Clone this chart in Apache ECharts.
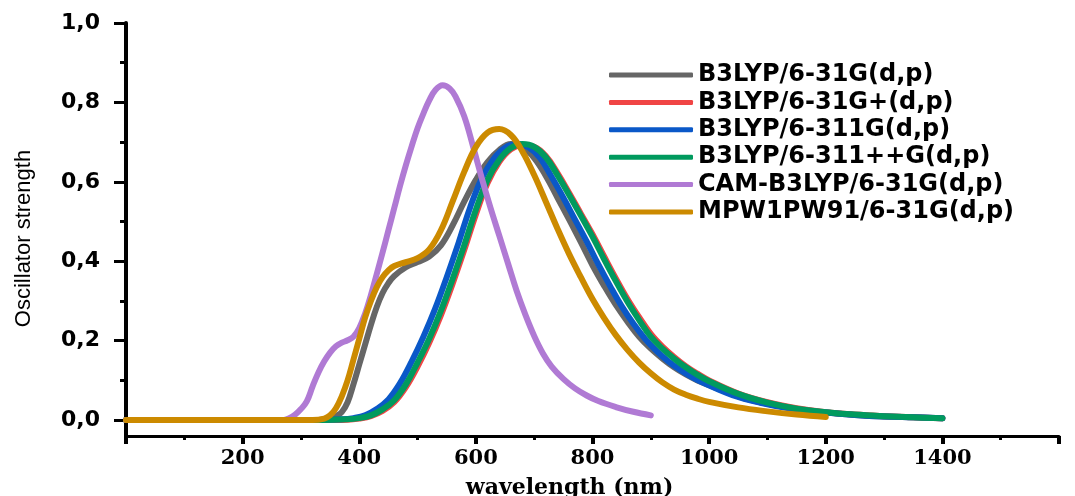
<!DOCTYPE html>
<html>
<head>
<meta charset="utf-8">
<script src="https://cdn.jsdelivr.net/npm/echarts@6/dist/echarts.min.js"></script>
<style>
  html, body { margin: 0; padding: 0; background: #fff; }
  #chartmain { width: 1075px; height: 496px; }
</style>
</head>
<body>
<div id="chartmain"></div>
<script>
// series names (legend order)
var names = ['B3LYP/6-31G(d,p)', 'B3LYP/6-31G+(d,p)', 'B3LYP/6-311G(d,p)',
             'B3LYP/6-311++G(d,p)', 'CAM-B3LYP/6-31G(d,p)', 'MPW1PW91/6-31G(d,p)'];
var colors = ['#666666', '#f04545', '#0a58c8', '#009a5e', '#b07ad4', '#cc8a00'];

// wavelength (nm), oscillator strength
var b3lyp631 = [[0,0],[330,0],[350,0.004],[360,0.01],[370,0.02],[380,0.045],[390,0.09],[400,0.14],
  [410,0.19],[420,0.24],[430,0.285],[440,0.32],[450,0.345],[460,0.363],[480,0.385],[500,0.398],
  [520,0.412],[540,0.44],[560,0.49],[580,0.55],[600,0.605],[620,0.65],[640,0.68],[660,0.695],
  [680,0.687],[700,0.66],[720,0.615],[740,0.56],[760,0.505],[780,0.448],[800,0.39],[820,0.338],
  [840,0.29],[860,0.248],[880,0.21],[900,0.18],[920,0.155],[940,0.133],[960,0.115],[980,0.1],
  [1000,0.088],[1050,0.06],[1100,0.041],[1150,0.028],[1200,0.019],[1250,0.013],[1300,0.009],
  [1350,0.007],[1400,0.005]];
var b3lyp631p = [[0,0],[330,0],[380,0.001],[400,0.004],[420,0.01],[440,0.023],[460,0.045],[480,0.083],
  [500,0.135],[520,0.195],[540,0.264],[560,0.343],[580,0.428],[600,0.518],[620,0.597],[640,0.65],
  [660,0.682],[680,0.692],[700,0.688],[720,0.665],[740,0.622],[760,0.572],[780,0.52],[800,0.468],
  [820,0.412],[840,0.357],[860,0.305],[880,0.259],[900,0.217],[920,0.185],[940,0.159],[960,0.136],
  [980,0.117],[1000,0.1],[1050,0.067],[1100,0.045],[1150,0.03],[1200,0.02],[1250,0.014],
  [1300,0.01],[1350,0.007],[1400,0.005]];
var b3lyp6311 = [[0,0],[320,0],[370,0.002],[390,0.005],[410,0.012],[430,0.028],[450,0.052],[470,0.093],
  [490,0.148],[510,0.21],[530,0.28],[550,0.36],[570,0.445],[590,0.535],[610,0.608],[630,0.657],
  [650,0.686],[670,0.695],[690,0.687],[710,0.66],[730,0.612],[750,0.56],[770,0.505],[790,0.45],
  [810,0.392],[830,0.338],[850,0.287],[870,0.243],[890,0.205],[910,0.174],[930,0.148],[950,0.127],
  [970,0.109],[990,0.094],[1040,0.063],[1090,0.043],[1140,0.029],[1200,0.019],[1250,0.013],
  [1300,0.009],[1350,0.007],[1400,0.005]];
var b3lyp6311pp = [[0,0],[330,0],[380,0.002],[400,0.005],[420,0.012],[440,0.027],[460,0.05],[480,0.09],
  [500,0.145],[520,0.205],[540,0.275],[560,0.355],[580,0.44],[600,0.53],[620,0.605],[640,0.655],
  [660,0.685],[680,0.695],[700,0.688],[720,0.662],[740,0.617],[760,0.567],[780,0.515],[800,0.462],
  [820,0.405],[840,0.35],[860,0.298],[880,0.252],[900,0.21],[920,0.18],[940,0.155],[960,0.133],
  [980,0.114],[1000,0.098],[1050,0.066],[1100,0.044],[1150,0.029],[1200,0.02],[1250,0.014],
  [1300,0.01],[1350,0.007],[1400,0.005]];
var camb3lyp = [[0,0],[270,0],[280,0.005],[290,0.014],[300,0.028],[310,0.047],[320,0.085],[330,0.12],
  [340,0.148],[350,0.17],[360,0.186],[370,0.195],[380,0.201],[390,0.21],[400,0.232],[410,0.268],
  [420,0.315],[430,0.368],[440,0.422],[450,0.478],[460,0.534],[470,0.59],[480,0.642],[490,0.69],
  [500,0.735],[510,0.772],[520,0.805],[530,0.83],[543,0.843],[555,0.835],[565,0.815],[580,0.765],
  [595,0.69],[610,0.61],[625,0.535],[640,0.465],[655,0.395],[670,0.325],[685,0.265],[700,0.212],
  [715,0.168],[730,0.135],[750,0.104],[770,0.08],[790,0.062],[810,0.048],[840,0.033],[870,0.021],
  [900,0.012]];
var mpw1pw91 = [[0,0],[320,0],[340,0.004],[350,0.012],[360,0.03],[370,0.06],[380,0.1],[390,0.152],
  [400,0.205],[410,0.258],[420,0.3],[430,0.335],[440,0.36],[450,0.377],[460,0.388],[480,0.398],
  [500,0.408],[520,0.43],[540,0.478],[560,0.55],[580,0.625],[600,0.688],[620,0.724],[640,0.733],
  [660,0.718],[680,0.676],[700,0.617],[720,0.55],[740,0.482],[760,0.418],[780,0.36],[800,0.305],
  [820,0.257],[840,0.214],[860,0.177],[880,0.145],[900,0.118],[920,0.095],[940,0.077],[960,0.064],
  [980,0.054],[1000,0.046],[1050,0.032],[1100,0.022],[1150,0.014],[1200,0.008]];

var allData = [b3lyp631, b3lyp631p, b3lyp6311, b3lyp6311pp, camb3lyp, mpw1pw91];

// y axis ticks
var yMajor = [0, 0.2, 0.4, 0.6, 0.8, 1.0];
var yMinor = [0.1, 0.3, 0.5, 0.7, 0.9];

var series = [];
for (var i = 0; i < names.length; i++) {
  series.push({
    name: names[i],
    type: 'line',
    data: allData[i],
    smooth: 0.4,
    symbol: 'none',
    showSymbol: false,
    yAxisIndex: 0,
    color: colors[i],
    lineStyle: { width: 6, color: colors[i], cap: 'round', join: 'round' },
    z: 2 + i
  });
}

var legendData = [];
for (var j = 0; j < names.length; j++) {
  legendData.push({ name: names[j], icon: 'roundRect', itemStyle: { color: colors[j] } });
}

var option = {
  animation: false,
  backgroundColor: '#fff',
  grid: { left: 126, right: 16, top: 23, bottom: 60, outerBoundsMode: 'none', containLabel: false },
  legend: {
    orient: 'vertical',
    left: 604,
    top: 58,
    itemWidth: 84,
    itemHeight: 5,
    itemGap: 3.4,
    data: legendData,
    textStyle: {
      fontFamily: 'DejaVu Sans',
      fontWeight: 'bold',
      fontSize: 24,
      lineHeight: 22,
      color: '#000'
    }
  },
  xAxis: {
    type: 'value',
    min: 0,
    max: 1600,
    interval: 200,
    name: 'wavelength (nm)',
    nameLocation: 'middle',
    nameGap: 41,
    nameTextStyle: {
      fontFamily: 'DejaVu Serif',
      fontWeight: 'bold',
      fontSize: 22,
      color: '#000',
      padding: [0, 46, 0, 0]
    },
    splitLine: { show: false },
    axisLine: { show: true, onZero: false, lineStyle: { color: '#000', width: 3 } },
    axisTick: { show: true, inside: false, length: 8, lineStyle: { color: '#000', width: 4 } },
    minorTick: { show: true, splitNumber: 2, length: 4, lineStyle: { color: '#000', width: 3 } },
    axisLabel: {
      margin: 12,
      fontFamily: 'DejaVu Serif',
      fontWeight: 'bold',
      fontSize: 21,
      color: '#000',
      formatter: function (v) { return (v === 0 || v === 1600) ? '' : String(v); }
    }
  },
  yAxis: [{
    type: 'value',
    min: -0.04,
    max: 1.0,
    name: 'Oscillator strength',
    nameLocation: 'middle',
    nameGap: 91,
    nameTextStyle: {
      fontFamily: 'Liberation Sans',
      fontSize: 22,
      color: '#000',
      padding: [0, 18, 0, 0]
    },
    splitLine: { show: false },
    axisLine: { show: true, onZero: false, lineStyle: { color: '#000', width: 4 } },
    axisTick: { show: true, inside: false, length: 12, customValues: yMajor,
      lineStyle: { color: '#000', width: 3 } },
    axisLabel: {
      margin: 26,
      customValues: yMajor,
      fontFamily: 'DejaVu Sans',
      fontWeight: 'bold',
      fontSize: 22,
      color: '#000',
      formatter: function (v) { return v.toFixed(1).replace('.', ','); }
    }
  }, {
    // minor ticks only
    type: 'value',
    position: 'left',
    min: -0.04,
    max: 1.0,
    splitLine: { show: false },
    axisLine: { show: false },
    axisTick: { show: true, inside: false, length: 6, customValues: yMinor,
      lineStyle: { color: '#000', width: 3 } },
    axisLabel: { show: false }
  }],
  series: series
};

var myChart = echarts.init(document.getElementById('chartmain'));
myChart.setOption(option);
</script>
</body>
</html>
